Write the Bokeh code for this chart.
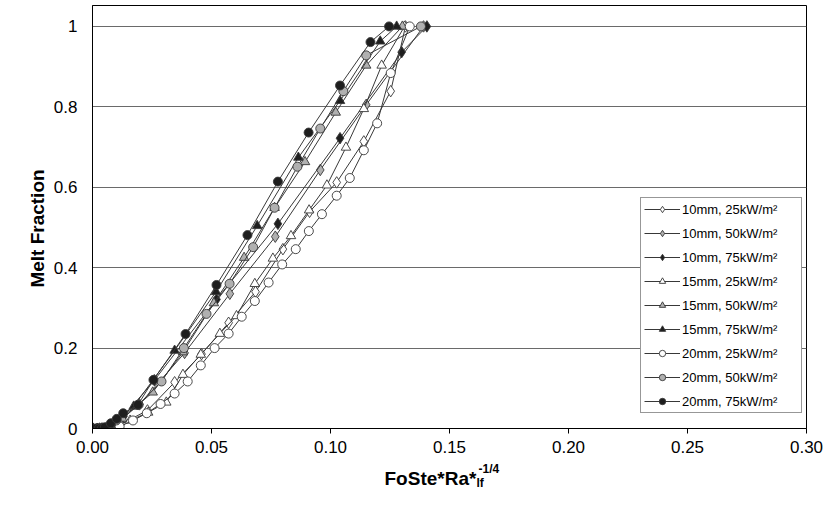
import numpy as np
from bokeh.plotting import figure
from bokeh.models import Legend, LegendItem, Label, FixedTicker, Range1d
from bokeh.embed import file_html
from bokeh.resources import INLINE

# ---------------- data ----------------
x_ticks = [0.0, 0.05, 0.10, 0.15, 0.20, 0.25, 0.30]
x_tick_labels = ["0.00", "0.05", "0.10", "0.15", "0.20", "0.25", "0.30"]
y_ticks = [0.0, 0.2, 0.4, 0.6, 0.8, 1.0]
y_tick_labels = ["0", "0.2", "0.4", "0.6", "0.8", "1"]

series_labels = [
    "10mm, 25kW/m²", "10mm, 50kW/m²", "10mm, 75kW/m²",
    "15mm, 25kW/m²", "15mm, 50kW/m²", "15mm, 75kW/m²",
    "20mm, 25kW/m²", "20mm, 50kW/m²", "20mm, 75kW/m²",
]

x_10mm_25 = [0.0, 0.004, 0.008, 0.0118, 0.0231, 0.0345, 0.0458, 0.0572, 0.0685, 0.0800, 0.0912, 0.1026, 0.1140, 0.1253, 0.1315]
y_10mm_25 = [0.0, 0.0, 0.0, 0.010, 0.045, 0.115, 0.185, 0.263, 0.340, 0.446, 0.539, 0.612, 0.714, 0.839, 1.0]

x_10mm_50 = [0.0, 0.003, 0.006, 0.0100, 0.0197, 0.0387, 0.0577, 0.0768, 0.0957, 0.1150, 0.1391]
y_10mm_50 = [0.0, 0.0, 0.0, 0.012, 0.060, 0.188, 0.335, 0.477, 0.643, 0.805, 1.0]

x_10mm_75 = [0.0, 0.004, 0.008, 0.0130, 0.0260, 0.0521, 0.0779, 0.1040, 0.1299, 0.1405]
y_10mm_75 = [0.0, 0.0, 0.0, 0.030, 0.120, 0.321, 0.509, 0.722, 0.936, 1.0]

x_15mm_25 = [0.0, 0.003, 0.006, 0.0082, 0.0158, 0.0234, 0.0310, 0.0380, 0.0455, 0.0535, 0.0605, 0.0682, 0.0758, 0.0834, 0.0910, 0.0985, 0.1065, 0.1140, 0.1215, 0.1311]
y_15mm_25 = [0.0, 0.0, 0.0, 0.005, 0.020, 0.040, 0.065, 0.134, 0.184, 0.236, 0.280, 0.360, 0.423, 0.479, 0.543, 0.605, 0.699, 0.795, 0.903, 1.0]

x_15mm_50 = [0.0, 0.002, 0.004, 0.008, 0.0125, 0.0253, 0.0380, 0.0510, 0.0637, 0.0765, 0.0893, 0.1022, 0.1150, 0.1302]
y_15mm_50 = [0.0, 0.0, 0.0, 0.005, 0.025, 0.090, 0.190, 0.312, 0.425, 0.549, 0.663, 0.786, 0.903, 1.0]

x_15mm_75 = [0.0, 0.002, 0.004, 0.0086, 0.0173, 0.0345, 0.0519, 0.0692, 0.0865, 0.1040, 0.1209, 0.1278]
y_15mm_75 = [0.0, 0.0, 0.0, 0.012, 0.055, 0.194, 0.340, 0.504, 0.674, 0.815, 0.963, 1.0]

x_20mm_25 = [0.0, 0.003, 0.0057, 0.0114, 0.0170, 0.0228, 0.0286, 0.0345, 0.0400, 0.0455, 0.0513, 0.0572, 0.0627, 0.0682, 0.0740, 0.0797, 0.0854, 0.0909, 0.0964, 0.1026, 0.1081, 0.1140, 0.1196, 0.1253, 0.1333]
y_20mm_25 = [0.0, 0.0, 0.0, 0.005, 0.020, 0.038, 0.061, 0.087, 0.117, 0.157, 0.200, 0.236, 0.278, 0.317, 0.363, 0.408, 0.446, 0.491, 0.533, 0.579, 0.623, 0.692, 0.759, 0.884, 1.0]

x_20mm_50 = [0.0, 0.002, 0.004, 0.006, 0.0100, 0.0194, 0.0290, 0.0384, 0.0479, 0.0576, 0.0675, 0.0765, 0.0861, 0.0957, 0.1054, 0.1150, 0.1380]
y_20mm_50 = [0.0, 0.0, 0.0, 0.003, 0.020, 0.059, 0.117, 0.200, 0.285, 0.360, 0.451, 0.549, 0.651, 0.746, 0.839, 0.928, 1.0]

x_20mm_75 = [0.0, 0.0013, 0.0026, 0.0039, 0.0052, 0.0077, 0.0102, 0.0129, 0.0191, 0.0256, 0.0391, 0.0521, 0.0651, 0.0779, 0.0908, 0.1040, 0.1168, 0.1246]
y_20mm_75 = [0.0, 0.0, 0.0, 0.0, 0.003, 0.013, 0.024, 0.038, 0.059, 0.121, 0.235, 0.357, 0.481, 0.614, 0.736, 0.853, 0.961, 1.0]

series_x = [x_10mm_25, x_10mm_50, x_10mm_75, x_15mm_25, x_15mm_50, x_15mm_75, x_20mm_25, x_20mm_50, x_20mm_75]
series_y = [y_10mm_25, y_10mm_50, y_10mm_75, y_15mm_25, y_15mm_50, y_15mm_75, y_20mm_25, y_20mm_50, y_20mm_75]

# ---------------- styles ----------------
WHITE, GRAY, BLACK = "#ffffff", "#b0b0b0", "#1e1e1e"
LINE = "#383838"
styles = [
    ("diamond", WHITE, 11.5), ("diamond", GRAY, 11.5), ("diamond", BLACK, 11.5),
    ("triangle", WHITE, 9.5), ("triangle", GRAY, 9.5), ("triangle", BLACK, 9.5),
    ("circle", WHITE, 9), ("circle", GRAY, 9), ("circle", BLACK, 9),
]
FONT = "Liberation Sans"

p = figure(width=824, height=490, x_range=Range1d(0, 0.30), y_range=Range1d(0, 1.052),
           output_backend="svg", toolbar_location=None,
           min_border_left=92, min_border_right=18, min_border_top=5, min_border_bottom=62)
p.background_fill_color = "white"
p.border_fill_color = "white"
p.outline_line_color = "black"
p.outline_line_width = 1

p.xgrid.visible = False
p.ygrid.grid_line_color = "#6a6a6a"
p.ygrid.grid_line_width = 1

p.xaxis.ticker = FixedTicker(ticks=x_ticks)
p.xaxis.major_label_overrides = {t: l for t, l in zip(x_ticks, x_tick_labels)}
p.yaxis.ticker = FixedTicker(ticks=y_ticks)
p.yaxis.major_label_overrides = {t: l for t, l in zip(y_ticks, y_tick_labels)}

for ax in (p.xaxis[0], p.yaxis[0]):
    ax.axis_line_color = "black"
    ax.major_tick_line_color = "black"
    ax.minor_tick_line_color = None
    ax.major_tick_in = 0
    ax.major_label_text_font = FONT
    ax.major_label_text_font_size = "17px"
    ax.major_label_text_color = "black"
    ax.axis_label = None
p.xaxis.major_tick_out = 5
p.xaxis.major_label_standoff = 7
p.yaxis.major_tick_out = 0
p.yaxis.major_label_standoff = 15

items = []
for lab, xs, ys, (mk, fill, sz) in zip(series_labels, series_x, series_y, styles):
    lr = p.line(xs, ys, line_color=LINE, line_width=1)
    sr = p.scatter(xs, ys, marker=mk, size=sz, fill_color=fill,
                   line_color=LINE, line_width=0.9)
    items.append(LegendItem(label=lab, renderers=[lr, sr]))

legend = Legend(items=items, location=(548, 15), orientation="vertical",
                label_text_font=FONT, label_text_font_size="13px", label_text_color="black",
                glyph_width=36, glyph_height=16, label_height=16, label_width=116,
                label_standoff=2, spacing=8, padding=3, margin=0,
                border_line_color="#303030", border_line_width=1,
                background_fill_color="white", background_fill_alpha=1.0)
p.add_layout(legend, "center")

# axis titles (with sub/superscript) as canvas-positioned labels in side panels
lab_main = Label(x=384, y=478, x_units="canvas", y_units="canvas", text="FoSte*Ra*",
                 text_font=FONT, text_font_style="bold", text_font_size="19px",
                 text_align="left", text_baseline="alphabetic", text_color="black")
lab_sub = Label(x=476, y=482, x_units="canvas", y_units="canvas", text="lf",
                text_font=FONT, text_font_style="bold", text_font_size="12px",
                text_align="left", text_baseline="alphabetic", text_color="black")
lab_sup = Label(x=478, y=468, x_units="canvas", y_units="canvas", text="-1/4",
                text_font=FONT, text_font_style="bold", text_font_size="12px",
                text_align="left", text_baseline="alphabetic", text_color="black")
lab_y = Label(x=37, y=228, x_units="canvas", y_units="canvas", text="Melt Fraction",
              angle=np.pi / 2, text_font=FONT, text_font_style="bold", text_font_size="19px",
              text_align="center", text_baseline="middle", text_color="black")
p.add_layout(lab_main, "below")
p.add_layout(lab_sub, "left")
p.add_layout(lab_sup, "left")
p.add_layout(lab_y, "left")

open("out.html", "w").write(file_html(p, INLINE))
